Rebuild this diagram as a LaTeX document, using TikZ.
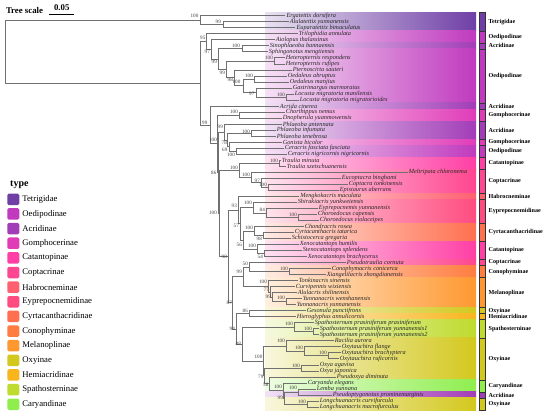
\documentclass[tikz,border=0pt]{standalone}
\usepackage{fontspec}
\setmainfont{Liberation Serif}
\usetikzlibrary{calc}
\definecolor{cTet}{HTML}{6F3FA6}
\definecolor{cOed}{HTML}{C03ABE}
\definecolor{cAcr}{HTML}{A23DB8}
\definecolor{cGom}{HTML}{E03CB8}
\definecolor{cCat}{HTML}{FF3FA5}
\definecolor{cCop}{HTML}{FF4690}
\definecolor{cHab}{HTML}{FF6070}
\definecolor{cEyp}{HTML}{FF4C80}
\definecolor{cCyr}{HTML}{FF7050}
\definecolor{cCon}{HTML}{FF7D40}
\definecolor{cMel}{HTML}{FF9830}
\definecolor{cOxy}{HTML}{D3C81E}
\definecolor{cHem}{HTML}{F8B51E}
\definecolor{cSpa}{HTML}{BEDB2E}
\definecolor{cCar}{HTML}{8FEE4E}
\definecolor{treegray}{HTML}{707070}
\tikzset{
  br/.style={draw=treegray, line width=0.7pt},
  leaf/.style={anchor=west, inner sep=1.1pt, text=black!85, font=\fontsize{6.3}{6.3}\selectfont\itshape},
  bs/.style={anchor=east, inner sep=0pt, text=black!75, font=\fontsize{5.1}{5.1}\selectfont},
  stripbox/.style={draw=black!80, line width=0.45pt},
  slab/.style={anchor=west, inner sep=0pt, font=\fontsize{6.1}{6.1}\selectfont\bfseries},
  swatch/.style={inner sep=0pt, minimum width=12pt, minimum height=11.5pt, rounded corners=1.5pt},
  legtxt/.style={anchor=west, inner sep=0pt, font=\fontsize{8.7}{8.7}\selectfont},
}
\newcommand\lf[4]{%
  \coordinate (#1) at (#3,{15.7+(#2-1)*6.02});
  \node[leaf] (#1t) at (#1) {#4};}
\newcommand\nd[4]{%
  \path let \p1=(#3), \p2=(#4) in coordinate (#1) at (#2pt,{0.5*(\y1+\y2)});
  \draw[br] (#1) |- (#3) (#1) |- (#4);}
\newcommand\bsl[4]{\node[bs] (#1) at (#2,#3) {#4};}
\newcommand\grp[4]{%
  \pgfmathsetmacro\gt{12.69+(#1-1)*6.02}%
  \pgfmathsetmacro\gb{12.69+#2*6.02}%
  \pgfmathsetmacro\gm{0.5*(\gt+\gb)}%
  \path[left color=#3!15!white, right color=#3] (265,\gt) rectangle (476,\gb);
  \draw[stripbox, fill=#3] (479,\gt) rectangle (485,\gb);
  \node[slab] (g#1) at (488.5,\gm) {#4};}
\newcommand\lgd[3]{%
  \pgfmathsetmacro\ly{199.3+(#1-1)*14.64}%
  \node[swatch, fill=#2] (sw#1) at (13.3,\ly) {};
  \node[legtxt] (lt#1) at (22.2,\ly) {#3};}
\begin{document}
\begin{tikzpicture}[x=1pt,y=-1pt]
\useasboundingbox (0,0) rectangle (550,418);
\fill[white] (0,0) rectangle (550,418);
% bands and strip
\grp{1}{3}{cTet}{Tetrigidae}
\grp{4}{5}{cOed}{Oedipodinae}
\grp{6}{6}{cAcr}{Acridinae}
\grp{7}{15}{cOed}{Oedipodinae}
\grp{16}{16}{cAcr}{Acridinae}
\grp{17}{18}{cGom}{Gomphocerinae}
\grp{19}{21}{cAcr}{Acridinae}
\grp{22}{22}{cGom}{Gomphocerinae}
\grp{23}{24}{cOed}{Oedipodinae}
\grp{25}{26}{cCat}{Catantopinae}
\grp{27}{30}{cCop}{Coptacrinae}
\grp{31}{31}{cHab}{Habrocneminae}
\grp{32}{35}{cEyp}{Eyprepocnemidinae}
\grp{36}{38}{cCyr}{Cyrtacanthacridinae}
\grp{39}{41}{cCat}{Catantopinae}
\grp{42}{42}{cCop}{Coptacrinae}
\grp{43}{44}{cCon}{Conophyminae}
\grp{45}{49}{cMel}{Melanoplinae}
\grp{50}{50}{cOxy}{Oxyinae}
\grp{51}{51}{cHem}{Hemiacridinae}
\grp{52}{54}{cSpa}{Spathosterninae}
\grp{55}{61}{cOxy}{Oxyinae}
\grp{62}{63}{cCar}{Caryandinae}
\grp{64}{64}{cAcr}{Acridinae}
\grp{65}{66}{cOxy}{Oxyinae}
% leaves
\lf{l1}{1}{285.2}{Ergatettix dorsifera}
\lf{l2}{2}{288.5}{Alulatettix yunnanensis}
\lf{l3}{3}{295.2}{Euparatettix bimaculatus}
\lf{l4}{4}{297.5}{Trilophidia annulata}
\lf{l5}{5}{274.5}{Aiolopus thalassinus}
\lf{l6}{6}{268.5}{Sinophlaeoba bannaensis}
\lf{l7}{7}{267.5}{Sphingonotus mengtiensis}
\lf{l8}{8}{284.5}{Heteropternis respondens}
\lf{l9}{9}{284.5}{Heteropternis rufipes}
\lf{l10}{10}{291.5}{Pternoscirta sauteri}
\lf{l11}{11}{286.5}{Oedaleus abruptus}
\lf{l12}{12}{288.5}{Oedaleus manjius}
\lf{l13}{13}{291.5}{Gastrimargus marmoratus}
\lf{l14}{14}{293.5}{Locusta migratoria manilensis}
\lf{l15}{15}{298.5}{Locusta migratoria migratorioides}
\lf{l16}{16}{278.5}{Acrida cinerea}
\lf{l17}{17}{284.5}{Chorthippus nemus}
\lf{l18}{18}{281.5}{Dnopherula yuanmowensis}
\lf{l19}{19}{281.5}{Phlaeoba antennata}
\lf{l20}{20}{275.5}{Phlaeoba infumata}
\lf{l21}{21}{275.5}{Phlaeoba tenebrosa}
\lf{l22}{22}{281.5}{Gonista bicolor}
\lf{l23}{23}{283.5}{Ceracris fasciata fasciata}
\lf{l24}{24}{286.5}{Ceracris nigricornis nigricornis}
\lf{l25}{25}{280.5}{Traulia minuta}
\lf{l26}{26}{285.5}{Traulia szetschuanensis}
\lf{l27}{27}{407.5}{Meltripata chloronema}
\lf{l28}{28}{340.5}{Eucoptacra binghami}
\lf{l29}{29}{347.5}{Coptacra tonkinensis}
\lf{l30}{30}{338.5}{Epistaurus aberrans}
\lf{l31}{31}{299}{Mengkokacris maculata}
\lf{l32}{32}{296.5}{Shirakiacris yunkweiensis}
\lf{l33}{33}{317.5}{Eyprepocnemis yunnanensis}
\lf{l34}{34}{316.5}{Choroedocus capensis}
\lf{l35}{35}{318.5}{Choroedocus violaceipes}
\lf{l36}{36}{303.5}{Chondracris rosea}
\lf{l37}{37}{293.5}{Cyrtacanthacris tatarica}
\lf{l38}{38}{290.5}{Schistocerca gregaria}
\lf{l39}{39}{298.5}{Xenocatantops humilis}
\lf{l40}{40}{301.5}{Stenocatantops splendens}
\lf{l41}{41}{306.5}{Xenocatantops brachycerus}
\lf{l42}{42}{345.5}{Pseudotraulia cornuta}
\lf{l43}{43}{330.5}{Conophymacris conicerca}
\lf{l44}{44}{325.5}{Xiangelilacris zhongdianensis}
\lf{l45}{45}{297.5}{Tonkinacris sinensis}
\lf{l46}{46}{294.5}{Curvipennis wixiensis}
\lf{l47}{47}{296.5}{Alulacris shilinensis}
\lf{l48}{48}{301.5}{Yunnanacris wenshanensis}
\lf{l49}{49}{295.5}{Yunnanacris yunnanensis}
\lf{l50}{50}{305.5}{Gesonula punctifrons}
\lf{l51}{51}{295.5}{Hieroglyphus annulicornis}
\lf{l52}{52}{313.5}{Spathosternum prasiniferum prasiniferum}
\lf{l53}{53}{318.5}{Spathosternum prasiniferum yunnanensis1}
\lf{l54}{54}{318.5}{Spathosternum prasiniferum yunnanensis2}
\lf{l55}{55}{333.5}{Racilia aurora}
\lf{l56}{56}{340.5}{Oxytauchira flange}
\lf{l57}{57}{340.5}{Oxytauchira brachyptera}
\lf{l58}{58}{338.5}{Oxytauchira ruficornis}
\lf{l59}{59}{318.5}{Oxya agavisa}
\lf{l60}{60}{318.5}{Oxya japonica}
\lf{l61}{61}{335.5}{Pseudoxya diminuta}
\lf{l62}{62}{306.5}{Caryanda elegans}
\lf{l63}{63}{315.5}{Lemba yunnana}
\lf{l64}{64}{331.5}{Pseudoptygonotus prominemarginis}
\lf{l65}{65}{318.5}{Longchuanacris curvifurcula}
\lf{l66}{66}{318.5}{Longchuanacris macrofurculus}
% internal nodes
\nd{B}{223}{l2}{l3}
\nd{A}{200.7}{l1}{B}
\nd{Lc}{286}{l14}{l15}
\nd{O8}{256}{l13}{Lc}
\nd{OE}{254}{l11}{l12}
\nd{O7}{243}{OE}{O8}
\nd{O6}{234}{l10}{O7}
\nd{H}{274.5}{l8}{l9}
\nd{O5}{226}{H}{O6}
\nd{S}{242}{l6}{l7}
\nd{O3}{218}{S}{O5}
\nd{O2}{211}{l5}{O3}
\nd{O1}{206}{l4}{O2}
\nd{CE}{236}{l23}{l24}
\nd{N69}{229}{l22}{CE}
\nd{PH}{251}{l20}{l21}
\nd{N78}{227.5}{PH}{N69}
\nd{Qc}{224}{l19}{N78}
\nd{CD}{239}{l17}{l18}
\nd{TR}{279}{l25}{l26}
\nd{CO3}{268}{l29}{l30}
\nd{CO2}{261}{l28}{CO3}
\nd{CO}{251}{l27}{CO2}
\nd{TC}{239}{TR}{CO}
\nd{CH}{298}{l34}{l35}
\nd{EY}{266}{l33}{CH}
\nd{SE}{253}{l32}{EY}
\nd{CS}{263}{l37}{l38}
\nd{CY}{254}{l36}{CS}
\nd{C54}{264}{l40}{l41}
\nd{CA}{257}{l39}{C54}
\nd{G56}{243}{CY}{CA}
\nd{G57}{240}{SE}{G56}
\nd{G1}{238}{l31}{G57}
\nd{CN}{289}{l43}{l44}
\nd{N50}{249}{l42}{CN}
\nd{YU}{286}{l48}{l49}
\nd{ME3}{272}{l47}{YU}
\nd{ME2}{270}{l46}{ME3}
\nd{ME1}{268}{l45}{ME2}
\nd{N99m}{243}{N50}{ME1}
\nd{N86b}{249}{l50}{l51}
\nd{SP2}{313}{l53}{l54}
\nd{SP}{294}{l52}{SP2}
\nd{OT2}{328}{l57}{l58}
\nd{OT}{304}{l56}{OT2}
\nd{RO}{286}{l55}{OT}
\nd{OY}{301}{l59}{l60}
\nd{LO}{307}{l65}{l66}
\nd{LP}{298}{l63}{l64}
\nd{N99c}{284}{LP}{LO}
\nd{CLa}{283}{l62}{N99c}
\nd{N58}{269.5}{l61}{CLa}
\nd{N79}{264.5}{OY}{N58}
\nd{N100x}{263.5}{RO}{N79}
\nd{N88}{242}{SP}{N100x}
\nd{N94}{236}{N86b}{N88}
\nd{N87}{232}{N99m}{N94}
\nd{N98}{228}{G1}{N87}
\nd{N100b}{219}{TC}{N98}
\nd{N86}{218.3}{Qc}{N100b}
\nd{Qb}{217.5}{CD}{N86}
\nd{Qa}{210}{l16}{Qb}
\nd{R}{200.7}{O1}{Qa}
\nd{root}{5}{A}{R}
% support values
\bsl{bA}{198.5}{15.5}{100}
\bsl{bB}{221}{21.5}{99}
\bsl{bO1}{205.5}{37.5}{95}
\bsl{bO2}{210}{52}{97}
\bsl{bS}{240}{46}{100}
\bsl{bO3}{217}{62}{99}
\bsl{bH}{273}{57.5}{100}
\bsl{bO5}{225}{73}{99}
\bsl{bO6}{233}{80}{98}
\bsl{bO7}{240.5}{82}{100}
\bsl{bOE}{253}{76}{100}
\bsl{bO8}{254.5}{94}{97}
\bsl{bL}{285}{95}{100}
\bsl{bQa}{207.5}{123}{99}
\bsl{bCD}{238}{112}{100}
\bsl{bQc}{223}{126.7}{99}
\bsl{bPH}{250}{132}{100}
\bsl{bQb}{217}{140}{100}
\bsl{b78}{227}{143}{78}
\bsl{b69}{227.5}{150}{69}
\bsl{bCE}{235}{155}{100}
\bsl{bTR}{278}{161}{100}
\bsl{bTC}{238}{167.7}{100}
\bsl{b86}{216.5}{172.7}{86}
\bsl{bCO}{250}{175}{100}
\bsl{bCO2}{260}{181}{97}
\bsl{bCO3}{267}{185}{100}
\bsl{bG1}{237}{206}{93}
\bsl{bSE}{252}{203}{100}
\bsl{bEY}{265}{210}{84}
\bsl{bCH}{297}{215}{100}
\bsl{b100b}{217}{213}{100}
\bsl{bG57}{239}{226}{57}
\bsl{bCY}{253}{228}{100}
\bsl{bCS}{262}{239}{98}
\bsl{bG56}{242}{245}{56}
\bsl{bCA}{256}{246}{100}
\bsl{bC54}{263}{257}{54}
\bsl{b98}{227}{257}{98}
\bsl{b50}{248}{264}{50}
\bsl{b99m}{242}{272}{99}
\bsl{bCN}{288}{269}{100}
\bsl{bME1}{267}{282}{100}
\bsl{bME2}{269}{290}{77}
\bsl{bME3}{271}{297}{99}
\bsl{bYU}{285}{298}{100}
\bsl{b87}{232}{303}{87}
\bsl{b86b}{248}{311}{86}
\bsl{b94}{235}{329}{94}
\bsl{bSP}{293}{324}{100}
\bsl{bSP2}{312}{329}{100}
\bsl{b88}{241}{344}{88}
\bsl{bRO}{285}{341}{100}
\bsl{bOT}{303}{348}{100}
\bsl{bOT2}{327}{353}{100}
\bsl{b100x}{262.5}{357}{100}
\bsl{bOY}{300}{366}{100}
\bsl{b79}{263.5}{377}{79}
\bsl{b58}{268.5}{385}{58}
\bsl{bCLa}{282}{387}{100}
\bsl{bLP}{297}{388}{100}
\bsl{b99c}{283}{398}{99}
\bsl{bLO}{306}{402}{100}
% tree scale
\node[anchor=base west, inner sep=0pt, font=\fontsize{8.8}{8.8}\selectfont\bfseries] (tsc) at (5.8,13.3) {Tree scale};
\node[anchor=base, inner sep=0pt, font=\fontsize{8.8}{8.8}\selectfont\bfseries] (tsv) at (61.7,10.7) {0.05};
\coordinate (sb1) at (49.3,14.2);
\coordinate (sb2) at (74,14.2);
\draw[line width=0.8pt] (sb1) -- (sb2);
% legend
\node[anchor=west, inner sep=0pt, font=\fontsize{10}{10}\selectfont\bfseries] (ltype) at (10,184.5) {type};
\lgd{1}{cTet}{Tetrigidae}
\lgd{2}{cOed}{Oedipodinae}
\lgd{3}{cAcr}{Acridinae}
\lgd{4}{cGom}{Gomphocerinae}
\lgd{5}{cCat}{Catantopinae}
\lgd{6}{cCop}{Coptacrinae}
\lgd{7}{cHab}{Habrocneminae}
\lgd{8}{cEyp}{Eyprepocnemidinae}
\lgd{9}{cCyr}{Cyrtacanthacridinae}
\lgd{10}{cCon}{Conophyminae}
\lgd{11}{cMel}{Melanoplinae}
\lgd{12}{cOxy}{Oxyinae}
\lgd{13}{cHem}{Hemiacridinae}
\lgd{14}{cSpa}{Spathosterninae}
\lgd{15}{cCar}{Caryandinae}
\end{tikzpicture}
\end{document}
